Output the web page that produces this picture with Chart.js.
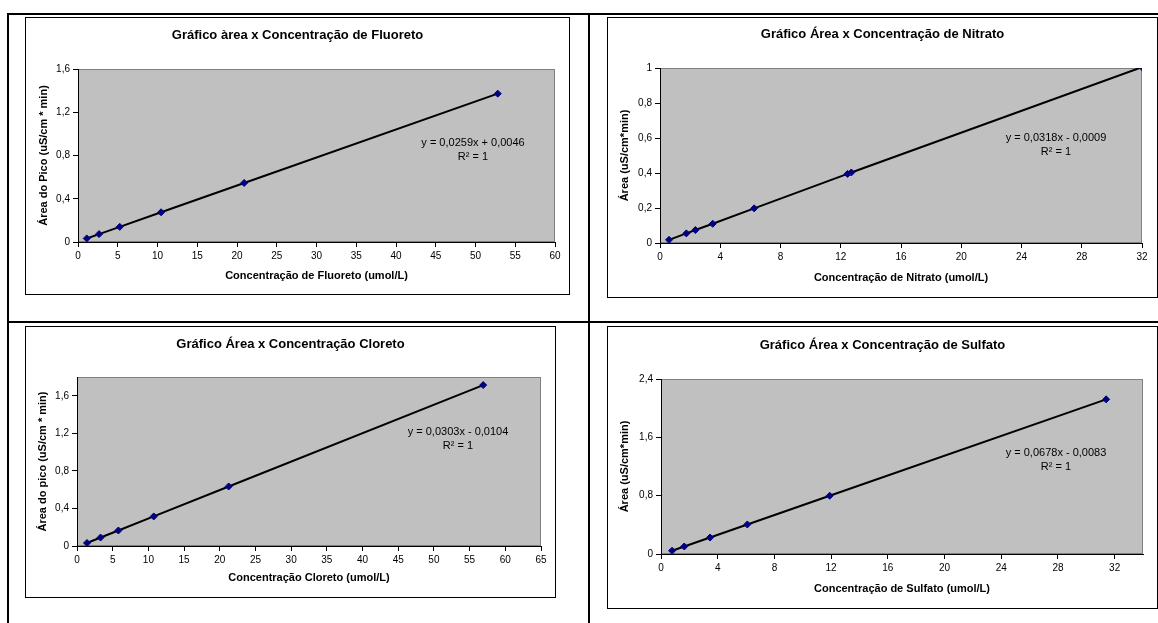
<!DOCTYPE html>
<html>
<head>
<meta charset="utf-8">
<script src="https://cdn.jsdelivr.net/npm/chart.js@4.4.0/dist/chart.umd.min.js"></script>
<style>
  body { margin: 0; background: #fff; width: 1158px; height: 623px; overflow: hidden; position: relative; }
  .rule { position: absolute; background: #000; }
  .frame { position: absolute; box-sizing: border-box; border: 1px solid #000; }
  canvas { position: absolute; }
</style>
</head>
<body>
<div class="rule" style="left:7px;top:13px;width:1151px;height:2px"></div>
<div class="rule" style="left:7px;top:13px;width:2px;height:610px"></div>
<div class="rule" style="left:588px;top:13px;width:2px;height:610px"></div>
<div class="rule" style="left:7px;top:321px;width:1151px;height:2px"></div>

<div class="frame" style="left:25px;top:17px;width:545px;height:278px"></div>
<div class="frame" style="left:607px;top:17px;width:551px;height:281px"></div>
<div class="frame" style="left:25px;top:326px;width:531px;height:272px"></div>
<div class="frame" style="left:607px;top:326px;width:551px;height:283px"></div>

<canvas id="fluoreto" width="543" height="276" style="left:26px;top:18px"></canvas>
<canvas id="nitrato" width="549" height="279" style="left:608px;top:18px"></canvas>
<canvas id="cloreto" width="529" height="270" style="left:26px;top:327px"></canvas>
<canvas id="sulfato" width="549" height="281" style="left:608px;top:327px"></canvas>

<script>
// concentração (umol/L) x área do pico
const fluoretoX = [1.1, 2.65, 5.25, 10.45, 20.9, 52.8];
const fluoretoY = [0.033, 0.073, 0.14, 0.275, 0.546, 1.372];

const nitratoX = [0.6, 1.75, 2.35, 3.5, 6.25, 12.45, 12.7, 32];
const nitratoY = [0.018, 0.055, 0.074, 0.11, 0.198, 0.395, 0.403, 1.005];

const cloretoX = [1.4, 3.3, 5.8, 10.75, 21.25, 56.9];
const cloretoY = [0.032, 0.09, 0.165, 0.315, 0.634, 1.714];

const sulfatoX = [0.78, 1.64, 3.46, 6.09, 11.9, 31.4];
const sulfatoY = [0.045, 0.103, 0.226, 0.405, 0.799, 2.121];

const titles = [
  'Gráfico àrea x Concentração de Fluoreto',
  'Gráfico Área x Concentração de Nitrato',
  'Gráfico Área x Concentração Cloreto',
  'Gráfico Área x Concentração de Sulfato'
];
const xTitles = [
  'Concentração de Fluoreto (umol/L)',
  'Concentração de Nitrato (umol/L)',
  'Concentração Cloreto (umol/L)',
  'Concentração de Sulfato (umol/L)'
];
const yTitles = [
  'Área do Pico (uS/cm * min)',
  'Área (uS/cm*min)',
  'Área do pico (uS/cm * min)',
  'Área (uS/cm*min)'
];
const equations = [
  ['y = 0,0259x + 0,0046', 'R² = 1'],
  ['y = 0,0318x - 0,0009', 'R² = 1'],
  ['y = 0,0303x - 0,0104', 'R² = 1'],
  ['y = 0,0678x - 0,0083', 'R² = 1']
];

Chart.defaults.font.family = '"Liberation Sans", Arial, sans-serif';
Chart.defaults.color = '#000';

function fmt(v) {
  return parseFloat(v.toFixed(2)).toString().replace('.', ',');
}

const plotBg = {
  id: 'plotBg',
  beforeDraw(chart) {
    const a = chart.chartArea, ctx = chart.ctx;
    ctx.save();
    ctx.fillStyle = '#c0c0c0';
    ctx.fillRect(a.left, a.top, a.right - a.left, a.bottom - a.top);
    ctx.strokeStyle = '#808080';
    ctx.lineWidth = 1;
    ctx.strokeRect(a.left + 0.5, a.top + 0.5, a.right - a.left - 1, a.bottom - a.top - 1);
    ctx.restore();
  }
};

// chart title (centred on the frame) and trendline equation
const textLabels = {
  id: 'textLabels',
  afterDatasetsDraw(chart, args, opts) {
    const ctx = chart.ctx;
    ctx.save();
    ctx.fillStyle = '#000';
    ctx.textAlign = 'center';
    ctx.textBaseline = 'middle';
    ctx.font = 'bold 13px "Liberation Sans", Arial, sans-serif';
    ctx.fillText(opts.title, chart.width / 2, opts.titleY);
    ctx.font = '11px "Liberation Sans", Arial, sans-serif';
    ctx.fillText(opts.lines[0], opts.x, opts.y);
    ctx.fillText(opts.lines[1], opts.x, opts.y + 14);
    ctx.restore();
  }
};

// box: plot left / right pad / plot top / bottom area, in canvas pixels
function createChart(id, n, xs, ys, xr, yr, box) {
  const ctx = document.getElementById(id).getContext('2d');
  const points = xs.map((x, i) => ({x: x, y: ys[i]}));
  return new Chart(ctx, {
    type: 'scatter',
    data: {
      datasets: [{
        data: points,
        showLine: true,
        borderColor: '#000',
        borderWidth: 2,
        pointStyle: 'rectRot',
        pointRadius: 3.5,
        pointBackgroundColor: '#000080',
        pointBorderColor: '#000080',
        pointBorderWidth: 1
      }]
    },
    options: {
      responsive: false,
      animation: false,
      devicePixelRatio: 1,
      layout: {padding: {left: 0, right: box.right, top: box.top, bottom: 0}},
      plugins: {
        legend: {display: false},
        tooltip: {enabled: false},
        title: {display: false},
        textLabels: {
          title: titles[n], titleY: box.titleY,
          x: box.eq[0], y: box.eq[1], lines: equations[n]
        }
      },
      scales: {
        x: {
          type: 'linear',
          min: xr[0], max: xr[1],
          afterFit: s => { s.height = box.bottom; },
          afterBuildTicks: s => { s.ticks = s.ticks.filter(t => t.value <= xr[2] + 1e-9); },
          ticks: {stepSize: xr[3], font: {size: 10}, padding: 3, callback: v => fmt(v)},
          grid: {drawOnChartArea: false, drawTicks: true, tickLength: 5, color: '#000'},
          border: {color: '#000', width: 1},
          title: {display: true, text: xTitles[n], font: {size: 11, weight: 'bold'}, padding: {top: 0, bottom: box.xtPad}}
        },
        y: {
          type: 'linear',
          min: yr[0], max: yr[1],
          afterFit: s => { s.width = box.left; },
          afterBuildTicks: s => { s.ticks = s.ticks.filter(t => t.value <= yr[2] + 1e-9); },
          ticks: {stepSize: yr[3], font: {size: 10}, padding: 3, callback: v => fmt(v)},
          grid: {drawOnChartArea: false, drawTicks: true, tickLength: 5, color: '#000'},
          border: {color: '#000', width: 1},
          title: {display: true, text: yTitles[n], font: {size: 11, weight: 'bold'}, padding: {top: box.ytPad, bottom: 0}}
        }
      }
    },
    plugins: [plotBg, textLabels]
  });
}

createChart('fluoreto', 0, fluoretoX, fluoretoY, [0, 60, 60, 5], [0, 1.6, 1.6, 0.4],
  {left: 52, right: 14, top: 51, bottom: 52, titleY: 17.5, xtPad: 11.4, ytPad: 11, eq: [447, 125]});
createChart('nitrato', 1, nitratoX, nitratoY, [0, 32, 32, 4], [0, 1, 1, 0.2],
  {left: 52, right: 15, top: 50, bottom: 54, titleY: 16.5, xtPad: 12.7, ytPad: 10.4, eq: [448, 120]});
createChart('cloreto', 2, cloretoX, cloretoY, [0, 65, 65, 5], [0, 1.8, 1.6, 0.4],
  {left: 51, right: 14, top: 50, bottom: 51, titleY: 17.5, xtPad: 12.4, ytPad: 10.7, eq: [432, 105]});
createChart('sulfato', 3, sulfatoX, sulfatoY, [0, 34, 32, 4], [0, 2.4, 2.4, 0.8],
  {left: 53, right: 14, top: 52, bottom: 54, titleY: 18.5, xtPad: 12.1, ytPad: 10.4, eq: [448, 126]});
</script>
</body>
</html>
